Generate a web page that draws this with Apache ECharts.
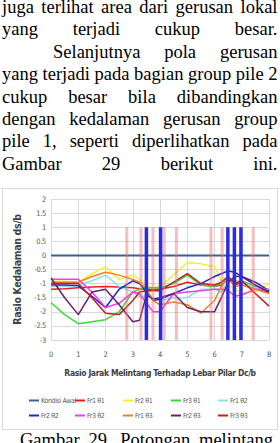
<!DOCTYPE html>
<html>
<head>
<meta charset="utf-8">
<script src="https://cdn.jsdelivr.net/npm/echarts@6/dist/echarts.min.js"></script>
<style>
  body { margin: 0; width: 280px; height: 443px; overflow: hidden; background: #fff; position: relative; }
  .txt { position: absolute; left: 2px; width: 275.5px; font-family: 'Liberation Serif', 'Times New Roman', serif; font-size: 18.5px; line-height: 22.4px; color: #000; }
  .txt div { text-align: justify; text-align-last: justify; white-space: nowrap; }
  .txt .first { line-height: 14.4px; margin-bottom: 4px; }
  #charts { position: absolute; left: 2px; top: 188px; width: 274px; height: 240px; border: 1px solid #d9d9d9; }
  #charts svg text { letter-spacing: -0.35px; }
  .cap { position: absolute; left: 20px; width: 253px; top: 429px; font-family: 'Liberation Serif', serif; font-size: 18.5px; line-height: 22.4px; text-align-last: justify; white-space: nowrap; }
</style>
</head>
<body>
<div class="txt" style="top:0">
  <div class="first">juga terlihat area dari gerusan lokal</div>
  <div>yang terjadi cukup besar.</div>
  <div style="padding-left:51px">Selanjutnya pola gerusan</div>
  <div>yang terjadi pada bagian group pile 2</div>
  <div>cukup besar bila dibandingkan</div>
  <div>dengan kedalaman gerusan group</div>
  <div>pile 1, seperti diperlihatkan pada</div>
  <div>Gambar 29 berikut ini.</div>
</div>
<div id="charts"></div>
<div class="cap">Gambar 29. Potongan melintang</div>
<script>
// titik ukur (Dc/b)
var xs = [0, 0.5, 1, 1.5, 2, 2.5, 3, 3.25, 3.5, 3.75, 4, 4.5, 5, 5.5, 6, 6.25, 6.5, 6.75, 7, 7.5, 8];

// kedalaman gerusan ds/b tiap seri
var kondisiAwal = [0, 0, 0, 0, 0, 0, 0, 0, 0, 0, 0, 0, 0, 0, 0, 0, 0, 0, 0, 0, 0];
var fr1t1 = [-1.2, -1.18, -1.15, -1.12, -1.1, -1.12, -1.15, -1.18, -1.2, -1.2, -1.2, -1.1, -0.95, -1.05, -1.1, -1.05, -0.85, -1.05, -0.95, -1.2, -1.3];
var fr2t1 = [-0.92, -0.92, -0.95, -0.65, -0.4, -0.85, -0.7, -0.85, -1.1, -1.15, -1.1, -0.7, -0.25, -0.3, -0.4, -0.9, -1.05, -1.2, -1.35, -1.3, -1.0];
var fr3t1 = [-1.68, -2.1, -2.42, -2.35, -2.28, -2.0, -1.3, -1.2, -1.15, -1.15, -1.15, -1.0, -0.7, -1.05, -1.1, -1.0, -0.8, -0.95, -0.9, -1.1, -1.25];
var fr1t2 = [-1.1, -1.1, -1.05, -0.9, -0.7, -1.1, -1.3, -1.45, -1.45, -1.5, -1.6, -1.5, -1.5, -1.2, -1.2, -1.3, -0.9, -0.85, -1.0, -1.15, -1.25];
var fr2t2 = [-1.05, -1.05, -1.08, -1.45, -1.85, -1.2, -0.9, -1.0, -1.3, -1.6, -1.55, -1.35, -1.15, -1.0, -0.75, -0.65, -0.55, -0.6, -0.75, -0.95, -1.25];
var fr3t2 = [-0.85, -0.85, -0.85, -1.3, -1.85, -1.7, -1.3, -1.35, -1.7, -2.0, -2.0, -1.35, -1.3, -1.25, -1.2, -1.2, -1.25, -1.45, -1.4, -1.2, -1.2];
var fr1t3 = [-0.95, -0.95, -0.95, -0.75, -0.6, -0.7, -0.85, -0.95, -1.2, -1.6, -1.75, -1.65, -1.75, -2.05, -1.6, -1.1, -0.8, -1.1, -1.05, -1.2, -1.35];
var fr2t3 = [-0.8, -1.5, -2.1, -1.3, -1.2, -1.75, -2.35, -2.3, -1.4, -1.55, -1.5, -1.35, -1.85, -2.0, -2.0, -1.5, -0.95, -0.75, -0.75, -1.05, -1.3];
var fr3t3 = [-1.0, -1.0, -1.0, -1.5, -2.05, -2.1, -1.6, -1.3, -1.25, -1.25, -1.25, -0.95, -0.65, -1.0, -1.05, -0.95, -0.75, -1.0, -0.9, -1.35, -1.8];

var names = ['Kondisi Awal', 'Fr1 θ1', 'Fr2 θ1', 'Fr3 θ1', 'Fr1 θ2', 'Fr2 θ2', 'Fr3 θ2', 'Fr1 θ3', 'Fr2 θ3', 'Fr3 θ3'];
var values = [kondisiAwal, fr1t1, fr2t1, fr3t1, fr1t2, fr2t2, fr3t2, fr1t3, fr2t3, fr3t3];
var colors = ['#3d5f93', '#ee1c1c', '#f4f032', '#3ad83a', '#86e6e6', '#2424d0', '#f23cf2', '#f0802a', '#6e2070', '#c0201e'];

// posisi pilar (garis tegak)
var pinkX = [2.78, 3.3, 3.74, 4.15, 4.6, 5.87, 6.28, 7.42];
var blueX = [3.5, 4.02, 6.49, 6.73, 6.97];
var barTop = 1, barBottom = -3;

var font = "'Liberation Sans Narrow', 'DejaVu Sans Condensed', sans-serif";

var myChart = echarts.init(document.getElementById('charts'), null, { renderer: 'svg' });

var series = [];
for (var i = 0; i < names.length; i++) {
    var d = [];
    for (var j = 0; j < xs.length; j++) {
        d.push([xs[j], values[i][j]]);
    }
    series.push({
        name: names[i],
        type: 'line',
        data: d,
        showSymbol: false,
        symbol: 'none',
        lineStyle: { width: i == 0 ? 2 : 1.5, color: colors[i] },
        itemStyle: { color: colors[i] },
        z: 2
    });
}
function pilar(xv, color, w) {
    return {
        type: 'line',
        data: [[xv, barTop], [xv, barBottom]],
        symbol: 'none',
        silent: true,
        lineStyle: { width: w, color: color },
        z: 3
    };
}
pinkX.forEach(function (x) { series.push(pilar(x, 'rgba(240,110,110,0.45)', 3)); });
blueX.forEach(function (x) { series.push(pilar(x, '#2b2be6', 3.5)); });

// legenda 5 kolom x 2 baris
var legCols = [21, 67, 115, 163, 210];
var legend = [];
for (var c = 0; c < 5; c++) {
    legend.push({
        orient: 'vertical',
        left: legCols[c],
        top: 203,
        itemWidth: 10,
        itemHeight: 2,
        itemGap: 8,
        icon: 'rect',
        selectedMode: false,
        textStyle: { fontSize: 7, color: '#595959', fontFamily: font, padding: [0, 0, 0, -3] },
        data: [names[c], names[c + 5]]
    });
}

option = {
    animation: false,
    legend: legend,
    grid: { left: 34, right: 8, top: 10, bottom: 89 },
    xAxis: {
        type: 'value',
        min: 0, max: 8, interval: 1,
        name: 'Rasio Jarak Melintang Terhadap Lebar Pilar Dc/b',
        nameLocation: 'middle',
        nameGap: 28,
        nameTextStyle: { fontSize: 8.5, fontWeight: 'bold', color: '#404040', fontFamily: font },
        axisLine: { show: false },
        axisTick: { show: false },
        axisLabel: { fontSize: 7.5, color: '#595959', margin: 10, fontFamily: font },
        splitLine: { show: true, lineStyle: { color: '#d9d9d9' } }
    },
    yAxis: {
        type: 'value',
        min: -3, max: 2, interval: 0.5,
        name: 'Rasio Kedalaman ds/b',
        nameLocation: 'middle',
        nameGap: 22,
        nameTextStyle: { fontSize: 10.5, fontWeight: 'bold', color: '#404040', fontFamily: font },
        axisLine: { show: false },
        axisTick: { show: false },
        axisLabel: { fontSize: 7.5, color: '#595959', margin: 5, fontFamily: font },
        splitLine: { lineStyle: { color: '#d9d9d9' } }
    },
    series: series
};

myChart.setOption(option);
</script>
</body>
</html>
